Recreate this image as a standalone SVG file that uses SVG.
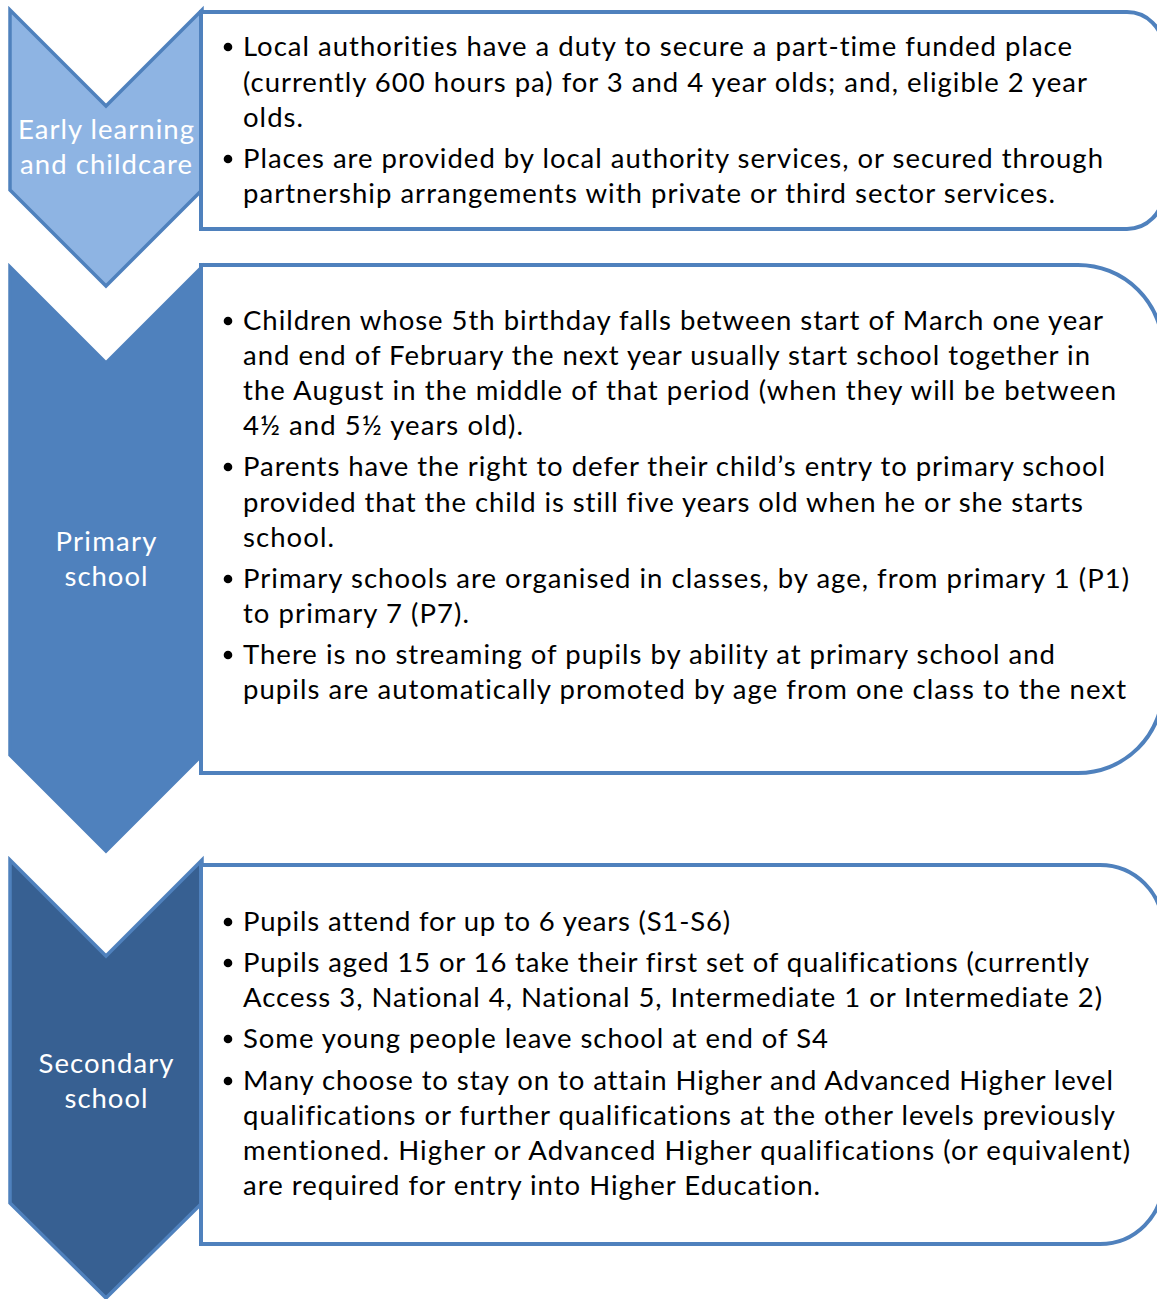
<svg xmlns="http://www.w3.org/2000/svg" width="1157" height="1299" viewBox="0 0 1157 1299">
  <style>
    .box { fill: #ffffff; stroke: #4F81BD; stroke-width: 4; }
    .chev { stroke: #4F81BD; stroke-width: 3.5; stroke-linejoin: miter; }
    .label { font-family: Lato, "Open Sans", "Liberation Sans", sans-serif; font-size: 27.5px; fill: #ffffff; text-anchor: middle; font-variant-ligatures: none; }
    .body { font-family: Lato, "Open Sans", "Liberation Sans", sans-serif; font-size: 27.5px; fill: #000000; font-variant-ligatures: none; }
    .dot { fill: #000000; }
  </style>
  <rect x="0" y="0" width="1157" height="1299" fill="#ffffff"/>

  <!-- Stage 1: early learning and childcare -->
  <g id="stage-early">
    <path class="chev" fill="#8EB4E3" d="M10,10 L106,106 L202,10 L202,190 L106,286 L10,190 Z"/>
    <text class="label" x="106" y="139" textLength="176">Early learning</text>
    <text class="label" x="106" y="174" textLength="172">and childcare</text>
  </g>
  <g id="detail-early">
    <path class="box" d="M201,12 H1127 A36,36 0 0 1 1163,48 V193 A36,36 0 0 1 1127,229 H201 Z"/>
    <circle class="dot" cx="228" cy="47" r="4.3"/>
    <circle class="dot" cx="228" cy="159" r="4.3"/>
    <text class="body" x="243" y="56" textLength="829">Local authorities have a duty to secure a part-time funded place</text>
    <text class="body" x="243" y="92" textLength="844">(currently 600 hours pa) for 3 and 4 year olds; and, eligible 2 year</text>
    <text class="body" x="243" y="127" textLength="60">olds.</text>
    <text class="body" x="243" y="168" textLength="860">Places are provided by local authority services, or secured through</text>
    <text class="body" x="243" y="203" textLength="812">partnership arrangements with private or third sector services.</text>
  </g>

  <!-- Stage 2: primary school -->
  <g id="stage-primary">
    <path class="chev" fill="#4F81BD" d="M10,267 L106,363 L202,267 L202,755 L106,851 L10,755 Z"/>
    <text class="label" x="106" y="551" textLength="101">Primary</text>
    <text class="label" x="106" y="586" textLength="83">school</text>
  </g>
  <g id="detail-primary">
    <path class="box" d="M201,265 H1078 A85,85 0 0 1 1163,350 V688 A85,85 0 0 1 1078,773 H201 Z"/>
    <circle class="dot" cx="228" cy="321" r="4.3"/>
    <circle class="dot" cx="228" cy="467" r="4.3"/>
    <circle class="dot" cx="228" cy="579" r="4.3"/>
    <circle class="dot" cx="228" cy="655" r="4.3"/>
    <text class="body" x="243" y="330" textLength="860">Children whose 5th birthday falls between start of March one year</text>
    <text class="body" x="243" y="365" textLength="847">and end of February the next year usually start school together in</text>
    <text class="body" x="243" y="400" textLength="873">the August in the middle of that period (when they will be between</text>
    <text class="body" x="243" y="435" textLength="280">4½ and 5½ years old).</text>
    <text class="body" x="243" y="476" textLength="862">Parents have the right to defer their child’s entry to primary school</text>
    <text class="body" x="243" y="512" textLength="840">provided that the child is still five years old when he or she starts</text>
    <text class="body" x="243" y="547" textLength="91">school.</text>
    <text class="body" x="243" y="588" textLength="886">Primary schools are organised in classes, by age, from primary 1 (P1)</text>
    <text class="body" x="243" y="623" textLength="226">to primary 7 (P7).</text>
    <text class="body" x="243" y="664" textLength="812">There is no streaming of pupils by ability at primary school and</text>
    <text class="body" x="243" y="699" textLength="883">pupils are automatically promoted by age from one class to the next</text>
  </g>

  <!-- Stage 3: secondary school -->
  <g id="stage-secondary">
    <path class="chev" fill="#376092" d="M10,860 L106,956 L202,860 L202,1203 L106,1298 L10,1203 Z"/>
    <text class="label" x="106" y="1073" textLength="135">Secondary</text>
    <text class="label" x="106" y="1108" textLength="83">school</text>
  </g>
  <g id="detail-secondary">
    <path class="box" d="M201,865 H1100 A63,63 0 0 1 1163,928 V1181 A63,63 0 0 1 1100,1244 H201 Z"/>
    <circle class="dot" cx="228" cy="922" r="4.3"/>
    <circle class="dot" cx="228" cy="963" r="4.3"/>
    <circle class="dot" cx="228" cy="1039" r="4.3"/>
    <circle class="dot" cx="228" cy="1081" r="4.3"/>
    <text class="body" x="243" y="931" textLength="487">Pupils attend for up to 6 years (S1-S6)</text>
    <text class="body" x="243" y="972" textLength="846">Pupils aged 15 or 16 take their first set of qualifications (currently</text>
    <text class="body" x="243" y="1007" textLength="859">Access 3, National 4, National 5, Intermediate 1 or Intermediate 2)</text>
    <text class="body" x="243" y="1048" textLength="585">Some young people leave school at end of S4</text>
    <text class="body" x="243" y="1090" textLength="870">Many choose to stay on to attain Higher and Advanced Higher level</text>
    <text class="body" x="243" y="1125" textLength="872">qualifications or further qualifications at the other levels previously</text>
    <text class="body" x="243" y="1160" textLength="887">mentioned. Higher or Advanced Higher qualifications (or equivalent)</text>
    <text class="body" x="243" y="1195" textLength="577">are required for entry into Higher Education.</text>
  </g>
</svg>
